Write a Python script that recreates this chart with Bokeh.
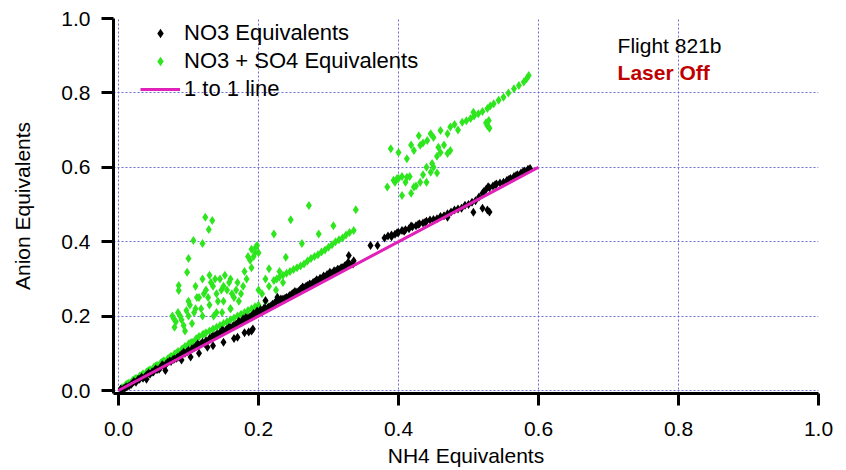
from bokeh.plotting import figure
from bokeh.models import Range1d, FixedTicker, Legend, LegendItem, Label, NumeralTickFormatter
from bokeh.embed import file_html
from bokeh.resources import INLINE

# ---- data ----
no3_x = [0.005, 0.01, 0.015, 0.02, 0.025, 0.03, 0.035, 0.04, 0.045, 0.05, 0.055, 0.06, 0.065, 0.07,
         0.075, 0.08, 0.085, 0.09, 0.095, 0.1, 0.105, 0.11, 0.115, 0.12, 0.125, 0.13, 0.135, 0.14,
         0.145, 0.15, 0.155, 0.16, 0.165, 0.17, 0.175, 0.18, 0.185, 0.19, 0.195, 0.2, 0.205, 0.21,
         0.215, 0.22, 0.225, 0.23, 0.235, 0.24, 0.245, 0.25, 0.255, 0.26, 0.265, 0.27, 0.275, 0.28,
         0.285, 0.29, 0.295, 0.3, 0.305, 0.31, 0.315, 0.32, 0.325, 0.33, 0.36, 0.37, 0.38, 0.385,
         0.39, 0.395, 0.4, 0.405, 0.41, 0.415, 0.42, 0.425, 0.43, 0.435, 0.44, 0.45, 0.46, 0.47,
         0.48, 0.49, 0.5, 0.51, 0.52, 0.525, 0.53, 0.535, 0.54, 0.55, 0.555, 0.56, 0.565, 0.57,
         0.575, 0.58, 0.585, 0.067, 0.103, 0.127, 0.15, 0.17, 0.186, 0.19, 0.329, 0.336, 0.47,
         0.507, 0.52, 0.527, 0.53, 0.21, 0.227, 0.012, 0.028, 0.048, 0.062, 0.088, 0.108, 0.118,
         0.142, 0.158, 0.172, 0.182, 0.198, 0.208, 0.232, 0.252, 0.268, 0.288, 0.302, 0.318,
         0.003, 0.008, 0.018, 0.022, 0.033, 0.038, 0.043, 0.053, 0.058, 0.063, 0.068, 0.073, 0.078,
         0.083, 0.093, 0.098, 0.113, 0.123, 0.133, 0.138, 0.148, 0.153, 0.163, 0.168, 0.178, 0.188,
         0.193, 0.203, 0.213, 0.218, 0.223, 0.228, 0.238, 0.243, 0.248, 0.258, 0.263, 0.273, 0.278,
         0.283, 0.293, 0.298, 0.308, 0.313, 0.323, 0.328, 0.335, 0.39, 0.398, 0.408, 0.418, 0.428,
         0.438, 0.445, 0.455, 0.465, 0.475, 0.485, 0.495, 0.505, 0.515, 0.522, 0.528, 0.538, 0.545,
         0.558, 0.568, 0.578, 0.588, 0.115, 0.135, 0.165, 0.18, 0.192, 0.04, 0.09]
no3_y = [0.003, 0.008, 0.012, 0.02, 0.022, 0.03, 0.033, 0.042, 0.044, 0.05, 0.056, 0.062, 0.066, 0.075,
         0.078, 0.085, 0.09, 0.097, 0.1, 0.108, 0.112, 0.118, 0.122, 0.13, 0.134, 0.14, 0.146, 0.15,
         0.155, 0.16, 0.165, 0.168, 0.175, 0.18, 0.183, 0.19, 0.195, 0.2, 0.205, 0.21, 0.212, 0.22,
         0.225, 0.232, 0.238, 0.24, 0.246, 0.25, 0.256, 0.262, 0.265, 0.272, 0.276, 0.282, 0.285, 0.292,
         0.296, 0.3, 0.305, 0.31, 0.315, 0.32, 0.325, 0.33, 0.337, 0.34, 0.39, 0.39, 0.41, 0.415,
         0.418, 0.42, 0.425, 0.43, 0.432, 0.435, 0.44, 0.443, 0.448, 0.45, 0.455, 0.46, 0.468, 0.475,
         0.485, 0.49, 0.5, 0.51, 0.53, 0.54, 0.545, 0.55, 0.555, 0.56, 0.565, 0.57, 0.575, 0.58,
         0.585, 0.59, 0.595, 0.054, 0.09, 0.116, 0.13, 0.143, 0.157, 0.16, 0.363, 0.349, 0.466,
         0.479, 0.49, 0.485, 0.48, 0.242, 0.251, 0.01, 0.03, 0.05, 0.068, 0.094, 0.115, 0.126,
         0.152, 0.17, 0.186, 0.196, 0.214, 0.222, 0.246, 0.266, 0.28, 0.302, 0.318, 0.33,
         0.004, 0.006, 0.016, 0.024, 0.036, 0.037, 0.047, 0.058, 0.057, 0.069, 0.071, 0.079, 0.083,
         0.087, 0.103, 0.104, 0.125, 0.127, 0.143, 0.148, 0.162, 0.161, 0.172, 0.178, 0.192, 0.198,
         0.207, 0.218, 0.222, 0.228, 0.235, 0.245, 0.248, 0.252, 0.26, 0.268, 0.278, 0.286, 0.29,
         0.298, 0.308, 0.312, 0.322, 0.326, 0.335, 0.345, 0.34, 0.413, 0.424, 0.428, 0.442, 0.446,
         0.452, 0.458, 0.462, 0.47, 0.48, 0.488, 0.498, 0.506, 0.52, 0.535, 0.548, 0.553, 0.558,
         0.568, 0.578, 0.588, 0.597, 0.1, 0.12, 0.14, 0.155, 0.165, 0.03, 0.082]

tot_x = [0.005, 0.01, 0.015, 0.02, 0.025, 0.03, 0.035, 0.04, 0.045, 0.05, 0.055, 0.06, 0.065, 0.07,
         0.075, 0.08, 0.085, 0.09, 0.095, 0.1, 0.105, 0.11, 0.115, 0.12, 0.125, 0.13, 0.14, 0.15,
         0.16, 0.17, 0.18, 0.19, 0.2, 0.21, 0.136, 0.148, 0.16,
         0.08, 0.085, 0.09, 0.095, 0.1, 0.1, 0.105, 0.11, 0.11, 0.115, 0.12, 0.12, 0.125, 0.13,
         0.13, 0.135, 0.14, 0.14, 0.145, 0.15, 0.15, 0.155, 0.16, 0.16, 0.165, 0.17, 0.175, 0.18,
         0.185, 0.19, 0.195, 0.198, 0.19, 0.2, 0.21, 0.23,
         0.222, 0.23, 0.24, 0.25, 0.26, 0.27, 0.28, 0.29, 0.3, 0.31, 0.32, 0.33, 0.336,
         0.272, 0.339, 0.246, 0.222, 0.307, 0.286, 0.262, 0.239, 0.215,
         0.124, 0.134, 0.129, 0.107, 0.12, 0.1, 0.098, 0.086, 0.086, 0.077, 0.079,
         0.384, 0.393, 0.4, 0.412, 0.405, 0.422, 0.431, 0.446, 0.45, 0.47, 0.474, 0.457, 0.412,
         0.422, 0.431, 0.441, 0.446, 0.46, 0.389, 0.429, 0.474, 0.491, 0.503, 0.514, 0.527, 0.527,
         0.529, 0.536, 0.55, 0.565, 0.579, 0.586, 0.507, 0.398, 0.416, 0.44, 0.455,
         0.0125, 0.0225, 0.0325, 0.0425, 0.0525, 0.0625, 0.0725, 0.0825, 0.0925, 0.1025, 0.112,
         0.122, 0.135, 0.145, 0.155, 0.165, 0.175, 0.185, 0.195,
         0.082, 0.088, 0.093, 0.097, 0.102, 0.108, 0.112, 0.118, 0.122, 0.128, 0.132, 0.138, 0.142,
         0.147, 0.152, 0.158, 0.162, 0.168, 0.172, 0.178, 0.183, 0.188, 0.193, 0.196, 0.2, 0.205,
         0.215, 0.225, 0.235,
         0.226, 0.235, 0.245, 0.255, 0.265, 0.275, 0.285, 0.295, 0.305, 0.315, 0.325,
         0.395, 0.405, 0.41, 0.418, 0.425, 0.435, 0.44, 0.448, 0.455, 0.46, 0.465, 0.435, 0.45,
         0.47, 0.48, 0.485, 0.497, 0.508, 0.52, 0.531, 0.543, 0.557, 0.572, 0.583, 0.525, 0.53,
         0.4, 0.418]
tot_y = [0.008, 0.015, 0.02, 0.027, 0.033, 0.038, 0.045, 0.05, 0.056, 0.062, 0.068, 0.073, 0.08, 0.085,
         0.092, 0.098, 0.105, 0.11, 0.118, 0.125, 0.13, 0.137, 0.145, 0.15, 0.155, 0.16, 0.17, 0.18,
         0.19, 0.2, 0.21, 0.22, 0.23, 0.24, 0.2, 0.21, 0.22,
         0.17, 0.21, 0.19, 0.16, 0.2, 0.24, 0.18, 0.22, 0.28, 0.25, 0.2, 0.3, 0.27, 0.23,
         0.31, 0.28, 0.26, 0.21, 0.3, 0.24, 0.28, 0.27, 0.3, 0.22, 0.25, 0.29, 0.26, 0.32,
         0.36, 0.38, 0.37, 0.39, 0.33, 0.27, 0.3, 0.32,
         0.296, 0.305, 0.315, 0.325, 0.335, 0.348, 0.36, 0.372, 0.385, 0.4, 0.41, 0.425, 0.43,
         0.497, 0.486, 0.459, 0.421, 0.443, 0.421, 0.395, 0.358, 0.327,
         0.466, 0.457, 0.433, 0.403, 0.395, 0.355, 0.318, 0.282, 0.269, 0.2, 0.193,
         0.547, 0.565, 0.57, 0.573, 0.524, 0.547, 0.56, 0.587, 0.6, 0.637, 0.645, 0.654, 0.623,
         0.645, 0.659, 0.672, 0.69, 0.699, 0.65, 0.685, 0.708, 0.721, 0.731, 0.744, 0.758, 0.712,
         0.726, 0.771, 0.788, 0.811, 0.829, 0.847, 0.748, 0.57, 0.575, 0.56, 0.585,
         0.018, 0.03, 0.04, 0.053, 0.065, 0.077, 0.088, 0.1, 0.113, 0.128, 0.14,
         0.152, 0.165, 0.175, 0.185, 0.195, 0.205, 0.215, 0.225,
         0.185, 0.2, 0.175, 0.215, 0.23, 0.21, 0.25, 0.22, 0.26, 0.25, 0.29, 0.3, 0.24,
         0.27, 0.31, 0.29, 0.26, 0.27, 0.24, 0.28, 0.3, 0.35, 0.36, 0.385, 0.37, 0.26,
         0.28, 0.27, 0.29,
         0.3, 0.31, 0.32, 0.33, 0.34, 0.355, 0.365, 0.378, 0.392, 0.405, 0.418,
         0.56, 0.575, 0.56, 0.53, 0.55, 0.58, 0.6, 0.61, 0.63, 0.64, 0.66, 0.665, 0.68,
         0.69, 0.715, 0.7, 0.725, 0.738, 0.75, 0.765, 0.78, 0.8, 0.82, 0.838, 0.72, 0.705,
         0.64, 0.66]

line_x = [0.0, 0.6]
line_y = [0.0, 0.6]

ticks = [0.0, 0.2, 0.4, 0.6, 0.8, 1.0]

FONT = "Liberation Sans"
GREEN = "#2de61e"
MAGENTA = "#e020b8"

p = figure(width=846, height=470, output_backend="svg", toolbar_location=None,
           x_range=Range1d(-5 / 700, 1.0), y_range=Range1d(-3 / 372, 1.0),
           min_border_left=113, min_border_right=28, min_border_top=18, min_border_bottom=77)

r_tot = p.scatter(tot_x, tot_y, marker="diamond", size=9, color=GREEN, line_width=0)
r_no3 = p.scatter(no3_x, no3_y, marker="diamond", size=9, color="#000000", line_width=0)
r_line = p.line(line_x, line_y, line_color=MAGENTA, line_width=3)

p.outline_line_color = None
for ax in (p.xaxis[0], p.yaxis[0]):
    ax.ticker = FixedTicker(ticks=ticks)
    ax.formatter = NumeralTickFormatter(format="0.0")
    ax.axis_line_width = 3
    ax.axis_line_color = "#000000"
    ax.major_tick_line_width = 3
    ax.major_tick_line_color = "#000000"
    ax.major_tick_out = 12
    ax.major_tick_in = 0
    ax.minor_tick_line_color = None
    ax.major_label_text_font = FONT
    ax.major_label_text_font_size = "21px"
    ax.major_label_text_color = "#000000"
    ax.axis_label_text_font = FONT
    ax.axis_label_text_font_size = "21px"
    ax.axis_label_text_font_style = "normal"
    ax.axis_label_text_color = "#000000"

p.xaxis.axis_label = "NH4 Equivalents"
p.yaxis.axis_label = "Anion Equivalents"
p.xaxis.major_label_standoff = 16
p.xaxis.axis_label_standoff = 5
p.yaxis.major_label_standoff = 11
p.yaxis.axis_label_standoff = 24

for g in (p.xgrid[0], p.ygrid[0]):
    g.ticker = FixedTicker(ticks=ticks)
    g.grid_line_color = "#6a6ad0"
    g.grid_line_dash = "2 2"
    g.grid_line_width = 1

legend = Legend(items=[
    LegendItem(label="NO3 Equivalents", renderers=[r_no3]),
    LegendItem(label="NO3 + SO4 Equivalents", renderers=[r_tot]),
    LegendItem(label="1 to 1 line", renderers=[r_line]),
], location=(27, 291), border_line_color=None, background_fill_alpha=0,
    label_text_font=FONT, label_text_font_size="22px", label_text_color="#000000",
    glyph_width=40, glyph_height=24, label_height=24, spacing=2, padding=3, margin=0,
    label_standoff=4)
p.add_layout(legend, "center")

p.add_layout(Label(x=0.713, y=0.927, text="Flight 821b", text_font=FONT, text_font_size="21px",
                   text_baseline="middle", text_color="#000000"))
p.add_layout(Label(x=0.713, y=0.855, text="Laser Off", text_font=FONT, text_font_size="21px",
                   text_font_style="bold", text_baseline="middle", text_color="#c00000"))

open("out.html", "w").write(file_html(p, INLINE))
